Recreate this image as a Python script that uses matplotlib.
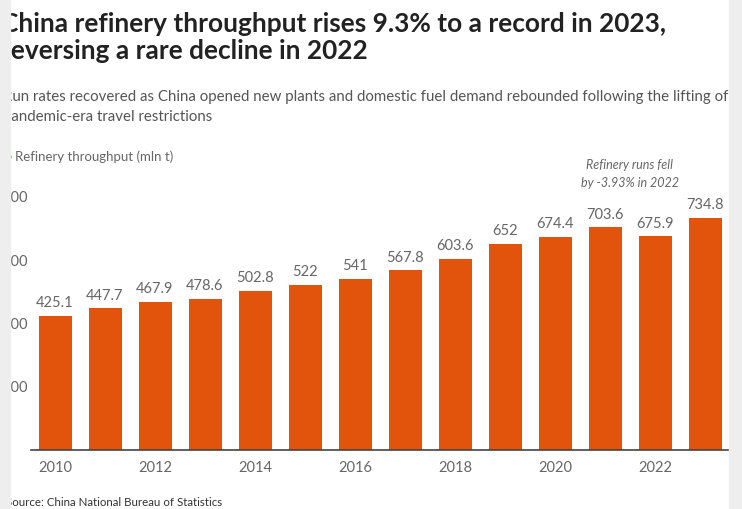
import matplotlib.pyplot as plt
from matplotlib.patches import Rectangle, Circle

years = [2010, 2011, 2012, 2013, 2014, 2015, 2016, 2017, 2018, 2019, 2020, 2021, 2022, 2023]
throughput = [425.1, 447.7, 467.9, 478.6, 502.8, 522, 541, 567.8, 603.6, 652, 674.4, 703.6, 675.9, 734.8]
value_labels = ["425.1", "447.7", "467.9", "478.6", "502.8", "522", "541", "567.8",
                "603.6", "652", "674.4", "703.6", "675.9", "734.8"]
year_ticks = [2010, 2012, 2014, 2016, 2018, 2020, 2022]
y_ticks = [200, 400, 600, 800]

W, H = 742, 509
orange = '#e2540c'
grey_txt = '#666666'

plt.rcParams['font.family'] = ['Lato', 'DejaVu Sans']

fig = plt.figure(figsize=(W / 100, H / 100), dpi=100)
fig.patch.set_facecolor('white')

def fx(px):
    return px / W

def fy(py):
    return 1 - py / H

# plot area in pixels: left 31, right 742, bottom 450, top 197
ax = fig.add_axes([fx(31), fy(450), fx(742 - 31), (450 - 197) / H])
ax.bar(years, throughput, width=0.66, color=orange, zorder=2)
for x, v, s in zip(years, throughput, value_labels):
    ax.text(x, v + 18, s, ha='center', va='bottom', fontsize=10.5, color=grey_txt)

ax.set_xlim(2010 - 24 / 50, 2010 - 24 / 50 + (742 - 31) / 50)
ax.set_ylim(0, 800)
ax.set_xticks(year_ticks)
ax.set_xticklabels([str(y) for y in year_ticks])
ax.set_yticks(y_ticks)
ax.set_yticklabels([str(t) for t in y_ticks])
ax.tick_params(axis='both', length=0, labelsize=10.5, labelcolor=grey_txt)
ax.tick_params(axis='y', pad=2)
ax.tick_params(axis='x', pad=8)
for side in ['top', 'right', 'left']:
    ax.spines[side].set_visible(False)
ax.spines['bottom'].set_color('#444444')
ax.spines['bottom'].set_linewidth(1.2)
ax.patch.set_alpha(0)

ax.text(2021.5, 872, "Refinery runs fell\nby -3.93% in 2022", ha='center', va='center',
        fontsize=9, style='italic', color=grey_txt, linespacing=1.6, clip_on=False)

# titles and texts
fig.text(fx(1), fy(32), "China refinery throughput rises 9.3% to a record in 2023,",
         fontsize=18.9, fontweight='bold', color='#222222', va='baseline')
fig.text(fx(1), fy(59), "reversing a rare decline in 2022",
         fontsize=18.9, fontweight='bold', color='#222222', va='baseline')
fig.text(fx(3), fy(101), "Run rates recovered as China opened new plants and domestic fuel demand rebounded following the lifting of",
         fontsize=10.85, color='#555555', va='baseline')
fig.text(fx(3), fy(121), "pandemic-era travel restrictions",
         fontsize=10.85, color='#555555', va='baseline')
fig.add_artist(Circle((fx(7), fy(157)), 4 / W, transform=fig.transFigure, color=orange, zorder=4))
fig.text(fx(15), fy(161), "Refinery throughput (mln t)", fontsize=9.5, color=grey_txt, va='baseline')
fig.text(fx(6.5), fy(506), "Source: China National Bureau of Statistics", fontsize=8.3,
         color='#333333', va='baseline')

# grey side strips of the cropped screenshot
fig.add_artist(Rectangle((0, 0), fx(10), 1, transform=fig.transFigure,
                         color='#eeeeee', zorder=10))
fig.add_artist(Rectangle((fx(729), 0), fx(742 - 729), 1, transform=fig.transFigure,
                         color='#eeeeee', zorder=10))

fig.savefig('out.png', dpi=100)
